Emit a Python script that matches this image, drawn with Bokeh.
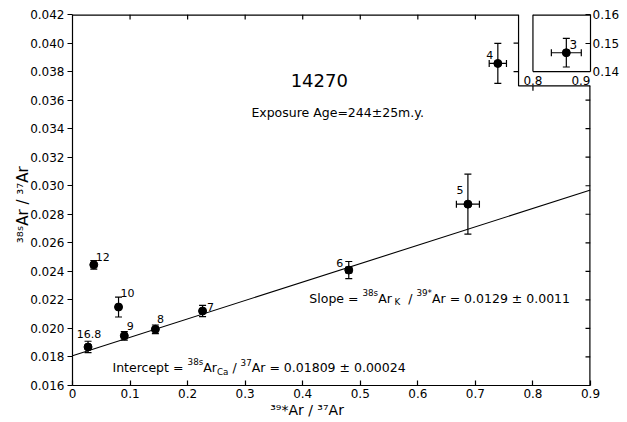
import math
from bokeh.plotting import figure
from bokeh.models import (Range1d, FixedTicker, ColumnDataSource, LinearAxis,
                          Whisker, TeeHead)
from bokeh.core.properties import value
from bokeh.embed import file_html
from bokeh.resources import INLINE

# ---------------- data ----------------
STEP_LABELS = ["16.8", "12", "10", "9", "8", "7", "6", "5", "4"]
RATIO_39_37 = [0.027, 0.037, 0.080, 0.090, 0.144, 0.226, 0.480, 0.687, 0.739]
RATIO_38_37 = [0.0187, 0.02446, 0.0215, 0.01948, 0.01994, 0.02122, 0.02409, 0.02871, 0.03857]
ERR_38_37 = [0.0004, 0.0003, 0.0007, 0.0003, 0.0003, 0.0004, 0.0006, 0.0021, 0.0014]
ERR_39_37 = [0.0, 0.0, 0.0, 0.0, 0.0, 0.0, 0.005, 0.020, 0.015]

INSET_LABELS = ["3"]
INSET_39_37 = [0.858]
INSET_38_37 = [0.1466]
INSET_ERR_38_37 = [0.005]
INSET_ERR_39_37 = [0.026]

SLOPE = 0.0129
INTERCEPT = 0.01809
FIT_X = [0.0, 0.9]

X_TICKS = [0.0, 0.1, 0.2, 0.3, 0.4, 0.5, 0.6, 0.7, 0.8, 0.9]
X_TICK_LABELS = ["0", "0.1", "0.2", "0.3", "0.4", "0.5", "0.6", "0.7", "0.8", "0.9"]
Y_TICKS = [0.016, 0.018, 0.020, 0.022, 0.024, 0.026, 0.028, 0.030, 0.032,
           0.034, 0.036, 0.038, 0.040, 0.042]
Y_TICK_LABELS = ["0.016", "0.018", "0.020", "0.022", "0.024", "0.026", "0.028",
                 "0.030", "0.032", "0.034", "0.036", "0.038", "0.040", "0.042"]
INSET_X_TICKS = [0.8, 0.9]
INSET_X_TICK_LABELS = ["0.8", "0.9"]
INSET_Y_TICKS = [0.14, 0.15, 0.16]
INSET_Y_TICK_LABELS = ["0.14", "0.15", "0.16"]

# ---------------- layout constants ----------------
XMIN, XMAX = 0.0, 0.9
YMIN, YMAX = 0.016, 0.042
CUT_X, CUT_Y = 0.775, 0.037          # notch of the main frame round the inset
INSET_MAIN_BOTTOM = 0.038            # main-axis y where the inset box starts
IY0, IY1 = INSET_Y_TICKS[0], INSET_Y_TICKS[-1]
k = (IY1 - IY0) / (YMAX - INSET_MAIN_BOTTOM)
INSET_RANGE = (IY0 - (INSET_MAIN_BOTTOM - YMIN) * k, IY1)

FONT = "DejaVu Sans"
LW = 1.2
TICK = 5

p = figure(width=627, height=422, x_range=Range1d(XMIN, XMAX),
           y_range=Range1d(YMIN, YMAX), output_backend="svg",
           toolbar_location=None, min_border_left=72, min_border_right=37,
           min_border_top=14, min_border_bottom=37)
p.extra_y_ranges = {"inset": Range1d(*INSET_RANGE)}
p.grid.visible = False
p.outline_line_color = None
p.background_fill_color = "white"
p.border_fill_color = "white"

def style_axis(ax):
    ax.axis_line_color = "black"
    ax.axis_line_width = LW
    ax.major_tick_line_color = "black"
    ax.major_tick_line_width = LW
    ax.minor_tick_line_color = None
    ax.major_label_text_color = "black"
    ax.major_label_text_font = FONT
    ax.major_label_text_font_size = "12px"
    ax.axis_label_text_font = FONT
    ax.axis_label_text_font_style = "normal"
    ax.axis_label_text_color = "black"

xa = p.xaxis[0]
style_axis(xa)
xa.ticker = FixedTicker(ticks=X_TICKS)
xa.major_label_overrides = dict(zip(X_TICKS, X_TICK_LABELS))
xa.major_tick_in = TICK
xa.major_tick_out = 0
xa.major_label_standoff = 3
xa.axis_label = "\u00b3\u2079*Ar  /  \u00b3\u2077Ar" + "\u00a0" * 9
xa.axis_label_text_font_size = "14px"
xa.axis_label_standoff = 1

ya = p.yaxis[0]
style_axis(ya)
ya.ticker = FixedTicker(ticks=Y_TICKS)
ya.major_label_overrides = dict(zip(Y_TICKS, Y_TICK_LABELS))
ya.major_tick_in = 0
ya.major_tick_out = TICK
ya.major_label_standoff = 3
ya.axis_label = "\u00b3\u2078\u02e2Ar  /  \u00b3\u2077Ar"
ya.axis_label_text_font_size = "15px"
ya.axis_label_standoff = -5

# inset's own y axis (its right edge, on the right of the frame)
ia = LinearAxis(y_range_name="inset", bounds=(IY0, IY1),
                ticker=FixedTicker(ticks=INSET_Y_TICKS))
style_axis(ia)
ia.major_label_overrides = dict(zip(INSET_Y_TICKS, INSET_Y_TICK_LABELS))
ia.major_tick_in = TICK
ia.major_tick_out = 0
ia.major_label_standoff = 2
p.add_layout(ia, "right")

# top and right frame with the notch round the inset (edge lines are half clipped,
# so they get double width)
p.segment(x0=[XMIN, XMAX], y0=[YMAX, YMIN], x1=[CUT_X, XMAX], y1=[YMAX, CUT_Y],
          line_color="black", line_width=2 * LW)
p.line(x=[CUT_X, CUT_X, XMAX], y=[YMAX, CUT_Y, CUT_Y], line_color="black", line_width=LW)

tt = [t for t in X_TICKS if XMIN < t < CUT_X]
p.ray(x=tt, y=[YMAX] * len(tt), length=TICK, length_units="screen", angle=-math.pi / 2,
      line_color="black", line_width=LW)
rt = [t for t in Y_TICKS if YMIN < t < CUT_Y]
p.ray(x=[XMAX] * len(rt), y=rt, length=TICK, length_units="screen", angle=math.pi,
      line_color="black", line_width=LW)
vt = [t for t in Y_TICKS if CUT_Y < t < YMAX]
p.ray(x=[CUT_X] * len(vt), y=vt, length=TICK, length_units="screen", angle=math.pi,
      line_color="black", line_width=LW)
ht = [t for t in X_TICKS if CUT_X < t < XMAX]
p.ray(x=ht, y=[CUT_Y] * len(ht), length=TICK, length_units="screen", angle=-math.pi / 2,
      line_color="black", line_width=LW)

# inset box: left and bottom edges, top edge (half clipped -> double width)
IX0, IX1 = INSET_X_TICKS[0], INSET_X_TICKS[-1]
p.segment(x0=[IX0, IX0], y0=[IY0, IY0], x1=[IX0, IX1], y1=[IY1, IY0],
          line_color="black", line_width=LW, y_range_name="inset")
p.segment(x0=[IX0], y0=[IY1], x1=[IX1], y1=[IY1],
          line_color="black", line_width=2 * LW, y_range_name="inset")
for t, lab, al in zip(INSET_X_TICKS, INSET_X_TICK_LABELS, ["center", "right"]):
    p.text(x=[t], y=[IY0], text=[lab], y_range_name="inset", y_offset=9,
           text_align=al, text_baseline="middle", text_font=value(FONT),
           text_font_size="12px", text_color="black")

# regression line
p.line(x=FIT_X, y=[INTERCEPT + SLOPE * x for x in FIT_X], line_color="black",
       line_width=1.1)

# error bars
def whisker(src, base, lo, hi, dim, yr="default"):
    w = Whisker(source=src, base=base, lower=lo, upper=hi, dimension=dim,
                line_color="black", line_width=LW, y_range_name=yr,
                upper_head=TeeHead(size=7, line_color="black", line_width=LW),
                lower_head=TeeHead(size=7, line_color="black", line_width=LW))
    p.add_layout(w)

vs = ColumnDataSource(dict(x=RATIO_39_37,
                           lo=[y - e for y, e in zip(RATIO_38_37, ERR_38_37)],
                           hi=[y + e for y, e in zip(RATIO_38_37, ERR_38_37)]))
whisker(vs, "x", "lo", "hi", "height")
hx = [(x, y, e) for x, y, e in zip(RATIO_39_37, RATIO_38_37, ERR_39_37) if e > 0]
hs = ColumnDataSource(dict(y=[h[1] for h in hx], lo=[h[0] - h[2] for h in hx],
                           hi=[h[0] + h[2] for h in hx]))
whisker(hs, "y", "lo", "hi", "width")

ivs = ColumnDataSource(dict(x=INSET_39_37,
                            lo=[y - e for y, e in zip(INSET_38_37, INSET_ERR_38_37)],
                            hi=[y + e for y, e in zip(INSET_38_37, INSET_ERR_38_37)]))
whisker(ivs, "x", "lo", "hi", "height", "inset")
ihs = ColumnDataSource(dict(y=INSET_38_37,
                            lo=[x - e for x, e in zip(INSET_39_37, INSET_ERR_39_37)],
                            hi=[x + e for x, e in zip(INSET_39_37, INSET_ERR_39_37)]))
whisker(ihs, "y", "lo", "hi", "width", "inset")

# points
p.scatter(RATIO_39_37, RATIO_38_37, size=8, color="black")
p.scatter(INSET_39_37, INSET_38_37, size=8, color="black", y_range_name="inset")

# point labels (screen offsets, +dy = down)
LABEL_DX = [1, 9, 9, 6, 5, 8, -9, -8, -8]
LABEL_DY = [-13, -8, -14, -10, -10, -4, -7, -14, -8]
p.text(x=RATIO_39_37, y=RATIO_38_37, text=STEP_LABELS, x_offset=LABEL_DX,
       y_offset=LABEL_DY, text_align="center", text_baseline="middle",
       text_font=value(FONT), text_font_size="11px", text_color="black")
p.text(x=INSET_39_37, y=INSET_38_37, text=INSET_LABELS, x_offset=[7], y_offset=[-8],
       y_range_name="inset", text_align="center", text_baseline="middle",
       text_font=value(FONT), text_font_size="12px", text_color="black")

# annotations
p.text(x=[0.4288], y=[0.03737], text=["14270"], text_align="center",
       text_baseline="middle", text_font=value(FONT), text_font_size="18px",
       text_color="black")
p.text(x=[0.3108], y=[0.03513], text=["Exposure Age=244\u00b125m.y."], text_align="left",
       text_baseline="middle", text_font=value(FONT), text_font_size="12.5px",
       text_color="black")

W = {' ': .318, '*': .5, '.': .318, '/': .337, '=': .838, '\u00b1': .838,
     'A': .684, 'C': .698, 'I': .295, 'K': .656, 'S': .635, 'a': .613, 'c': .55,
     'e': .615, 'l': .278, 'n': .634, 'o': .612, 'p': .635, 'r': .411, 's': .521,
     't': .392}
for d in "0123456789":
    W[d] = .636

def tw(s, size):
    return sum(W.get(c, 0.6) for c in s) * size

def rich(runs, x, y, base):
    rows = dict(x=[], y=[], text=[], dx=[], dy=[], size=[])
    off = 0.0
    for txt, role in runs:
        size = base if role == "n" else round(base * 0.7, 2)
        dy = 0 if role == "n" else (-0.45 * base if role == "sup" else 0.32 * base)
        core = txt.strip(" ")
        lead = len(txt) - len(txt.lstrip(" "))
        trail = len(txt) - len(txt.rstrip(" ")) if core else 0
        off += lead * W[" "] * size
        if core:
            rows["x"].append(x); rows["y"].append(y); rows["text"].append(core)
            rows["dx"].append(off); rows["dy"].append(dy); rows["size"].append(f"{size}px")
        off += tw(core, size) + trail * W[" "] * size
    p.text(source=ColumnDataSource(rows), x="x", y="y", text="text", x_offset="dx",
           y_offset="dy", text_font_size="size", text_align="left",
           text_baseline="alphabetic", text_font=value(FONT), text_color="black")

rich([("Slope = ", "n"), ("38s", "sup"), ("Ar", "n"), (" K", "sub"), ("  / ", "n"),
      ("39*", "sup"), ("Ar = 0.0129 \u00b1 0.0011", "n")], 0.4115, 0.0221, 12.5)
rich([("Intercept = ", "n"), ("38s", "sup"), ("Ar", "n"), ("Ca", "sub"), (" / ", "n"),
      ("37", "sup"), ("Ar = 0.01809 \u00b1 0.00024", "n")], 0.0694, 0.01725, 12.5)

open("out.html", "w").write(file_html(p, INLINE))
